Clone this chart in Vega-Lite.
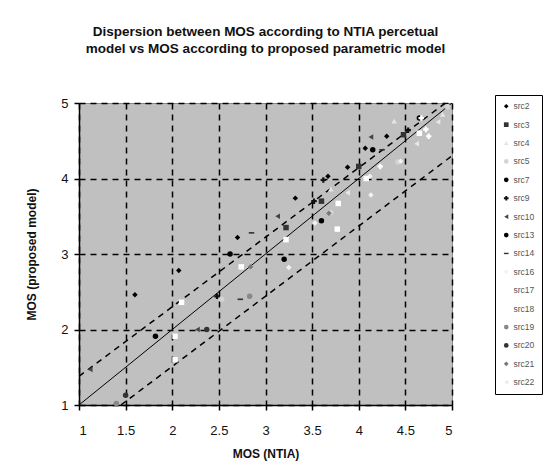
{
  "$schema": "https://vega.github.io/schema/vega-lite/v6.json",
  "autosize": "none",
  "width": 373,
  "height": 302,
  "padding": {"left": 79, "top": 103, "right": 106, "bottom": 67},
  "background": "white",
  "title": {
    "text": ["Dispersion between MOS according to NTIA percetual", "model vs MOS according to proposed parametric model"],
    "anchor": "middle",
    "font": "Liberation Sans",
    "fontSize": 13.5,
    "fontWeight": "bold",
    "color": "#111",
    "offset": 39,
    "lineHeight": 17
  },
  "config": {
    "view": {"fill": "#c0c0c0", "stroke": "#888888", "strokeWidth": 1},
    "axis": {
      "labelFont": "Liberation Sans",
      "labelFontSize": 13,
      "labelColor": "#111",
      "titleFont": "Liberation Sans",
      "titleFontSize": 12,
      "titleFontWeight": "bold",
      "titleColor": "#111",
      "domainColor": "black",
      "domainWidth": 1.5,
      "tickColor": "black",
      "tickWidth": 1.5,
      "tickSize": 5,
      "grid": true,
      "gridColor": "black",
      "gridDash": [6, 5],
      "gridWidth": 1.5
    },
    "legend": {
      "strokeColor": "black",
      "fillColor": "white",
      "padding": 7,
      "labelFont": "Liberation Sans",
      "labelFontSize": 8.5,
      "labelColor": "#555555",
      "labelOffset": 3,
      "rowPadding": 9.4,
      "symbolSize": 22,
      "labelLimit": 40
    }
  },
  "datasets": {
    "pts": [
      {"series": "src2", "x": 1.6, "y": 2.46},
      {"series": "src2", "x": 2.07, "y": 2.78},
      {"series": "src2", "x": 2.7, "y": 3.22},
      {"series": "src2", "x": 3.32, "y": 3.74},
      {"series": "src2", "x": 3.67, "y": 4.03},
      {"series": "src2", "x": 3.88, "y": 4.15},
      {"series": "src2", "x": 4.07, "y": 4.4},
      {"series": "src2", "x": 4.3, "y": 4.56},
      {"series": "src3", "x": 3.22, "y": 3.35},
      {"series": "src3", "x": 3.6, "y": 3.7},
      {"series": "src3", "x": 4.0, "y": 4.16},
      {"series": "src3", "x": 4.48, "y": 4.58},
      {"series": "src4", "x": 3.7, "y": 3.86},
      {"series": "src4", "x": 4.38, "y": 4.76},
      {"series": "src4", "x": 4.9, "y": 4.85},
      {"series": "src5", "x": 2.53, "y": 2.4},
      {"series": "src5", "x": 3.7, "y": 3.55},
      {"series": "src5", "x": 4.42, "y": 4.22},
      {"series": "src5", "x": 4.95, "y": 4.95},
      {"series": "src7", "x": 1.82, "y": 1.91},
      {"series": "src7", "x": 3.6, "y": 3.44},
      {"series": "src7", "x": 4.15, "y": 4.38},
      {"series": "src9", "x": 2.48, "y": 2.44},
      {"series": "src9", "x": 3.52, "y": 3.7},
      {"series": "src9", "x": 3.62, "y": 3.98},
      {"series": "src9", "x": 4.53, "y": 4.64},
      {"series": "src10", "x": 1.12, "y": 1.47},
      {"series": "src10", "x": 2.27, "y": 2.0},
      {"series": "src10", "x": 3.13, "y": 3.5},
      {"series": "src10", "x": 4.13, "y": 4.55},
      {"series": "src13", "x": 2.62, "y": 3.0},
      {"series": "src13", "x": 3.2, "y": 2.93},
      {"series": "src13", "x": 4.65, "y": 4.8},
      {"series": "src14", "x": 2.73, "y": 2.4},
      {"series": "src14", "x": 2.85, "y": 3.28},
      {"series": "src14", "x": 4.25, "y": 4.38},
      {"series": "src16", "x": 3.25, "y": 2.82},
      {"series": "src16", "x": 3.53, "y": 3.41},
      {"series": "src16", "x": 4.12, "y": 4.03},
      {"series": "src16", "x": 4.13, "y": 3.78},
      {"series": "src16", "x": 4.45, "y": 4.23},
      {"series": "src17", "x": 2.03, "y": 1.6},
      {"series": "src17", "x": 2.03, "y": 1.91},
      {"series": "src17", "x": 2.1, "y": 2.36},
      {"series": "src17", "x": 2.74, "y": 2.83},
      {"series": "src17", "x": 3.22, "y": 3.19},
      {"series": "src17", "x": 3.77, "y": 3.33},
      {"series": "src17", "x": 3.78, "y": 3.67},
      {"series": "src17", "x": 4.08, "y": 4.0},
      {"series": "src17", "x": 4.65, "y": 4.6},
      {"series": "src18", "x": 4.23, "y": 4.16},
      {"series": "src18", "x": 4.67, "y": 4.8},
      {"series": "src18", "x": 4.72, "y": 4.65},
      {"series": "src18", "x": 4.75, "y": 4.56},
      {"series": "src19", "x": 1.4, "y": 1.02},
      {"series": "src19", "x": 2.83, "y": 2.44},
      {"series": "src20", "x": 1.5, "y": 1.13},
      {"series": "src20", "x": 2.37, "y": 2.0},
      {"series": "src21", "x": 2.84, "y": 2.83},
      {"series": "src21", "x": 3.68, "y": 3.54},
      {"series": "src22", "x": 3.88, "y": 3.81},
      {"series": "src22", "x": 4.62, "y": 4.46},
      {"series": "src22", "x": 4.85, "y": 4.75}
    ],
    "lines": [
      {"line": "fit", "x": 1, "y": 1},
      {"line": "fit", "x": 5, "y": 5},
      {"line": "upper", "x": 1, "y": 1.38},
      {"line": "upper", "x": 4.93, "y": 5},
      {"line": "lower", "x": 1.45, "y": 1},
      {"line": "lower", "x": 5, "y": 4.3}
    ]
  },
  "layer": [
    {
      "data": {"name": "lines"},
      "transform": [{"filter": "datum.line === 'fit'"}],
      "mark": {"type": "line", "color": "black", "strokeWidth": 1},
      "encoding": {
        "x": {"field": "x", "type": "quantitative", "scale": {"domain": [1, 5]}, "axis": {"values": [1, 1.5, 2, 2.5, 3, 3.5, 4, 4.5, 5], "title": "MOS (NTIA)", "labelPadding": 14, "titlePadding": 11, "format": "~g"}},
        "y": {"field": "y", "type": "quantitative", "scale": {"domain": [1, 5]}, "axis": {"values": [1, 1.5, 2, 2.5, 3, 3.5, 4, 4.5, 5], "title": "MOS (proposed model)", "labelPadding": 6, "titlePadding": 22, "format": "~g"}}
      }
    },
    {
      "data": {"name": "lines"},
      "transform": [{"filter": "datum.line !== 'fit'"}],
      "mark": {"type": "line", "color": "black", "strokeWidth": 1.5, "strokeDash": [6, 5]},
      "encoding": {
        "x": {"field": "x", "type": "quantitative"},
        "y": {"field": "y", "type": "quantitative"},
        "detail": {"field": "line"}
      }
    },
    {
      "data": {"name": "pts"},
      "mark": {"type": "point", "filled": true, "size": 30, "opacity": 1},
      "encoding": {
        "x": {"field": "x", "type": "quantitative"},
        "y": {"field": "y", "type": "quantitative"},
        "color": {
          "field": "series", "type": "nominal",
          "scale": {
            "domain": ["src2", "src3", "src4", "src5", "src7", "src9", "src10", "src13", "src14", "src16", "src17", "src18", "src19", "src20", "src21", "src22"],
            "range": ["#000000", "#333333", "#e6e6e6", "#d4d4d4", "#000000", "#111111", "#444444", "#000000", "#333333", "#f2f2f2", "#ffffff", "#ffffff", "#888888", "#333333", "#777777", "#e8e8e8"]
          },
          "legend": {
            "title": null,
            "orient": "none",
            "legendX": 416,
            "legendY": -8,
            "encode": {"legend": {"update": {"strokeWidth": {"value": 1.5}}}}
          }
        },
        "shape": {
          "field": "series", "type": "nominal",
          "scale": {
            "domain": ["src2", "src3", "src4", "src5", "src7", "src9", "src10", "src13", "src14", "src16", "src17", "src18", "src19", "src20", "src21", "src22"],
            "range": ["diamond", "square", "triangle-up", "circle", "circle", "cross", "triangle-left", "circle", "M-1,-0.3L1,-0.3L1,0.3L-1,0.3Z", "diamond", "square", "cross", "circle", "circle", "diamond", "triangle-left"]
          },
          "legend": {
            "title": null,
            "orient": "none",
            "legendX": 416,
            "legendY": -8,
            "encode": {"legend": {"update": {"strokeWidth": {"value": 1.5}}}}
          }
        }
      }
    }
  ]
}
